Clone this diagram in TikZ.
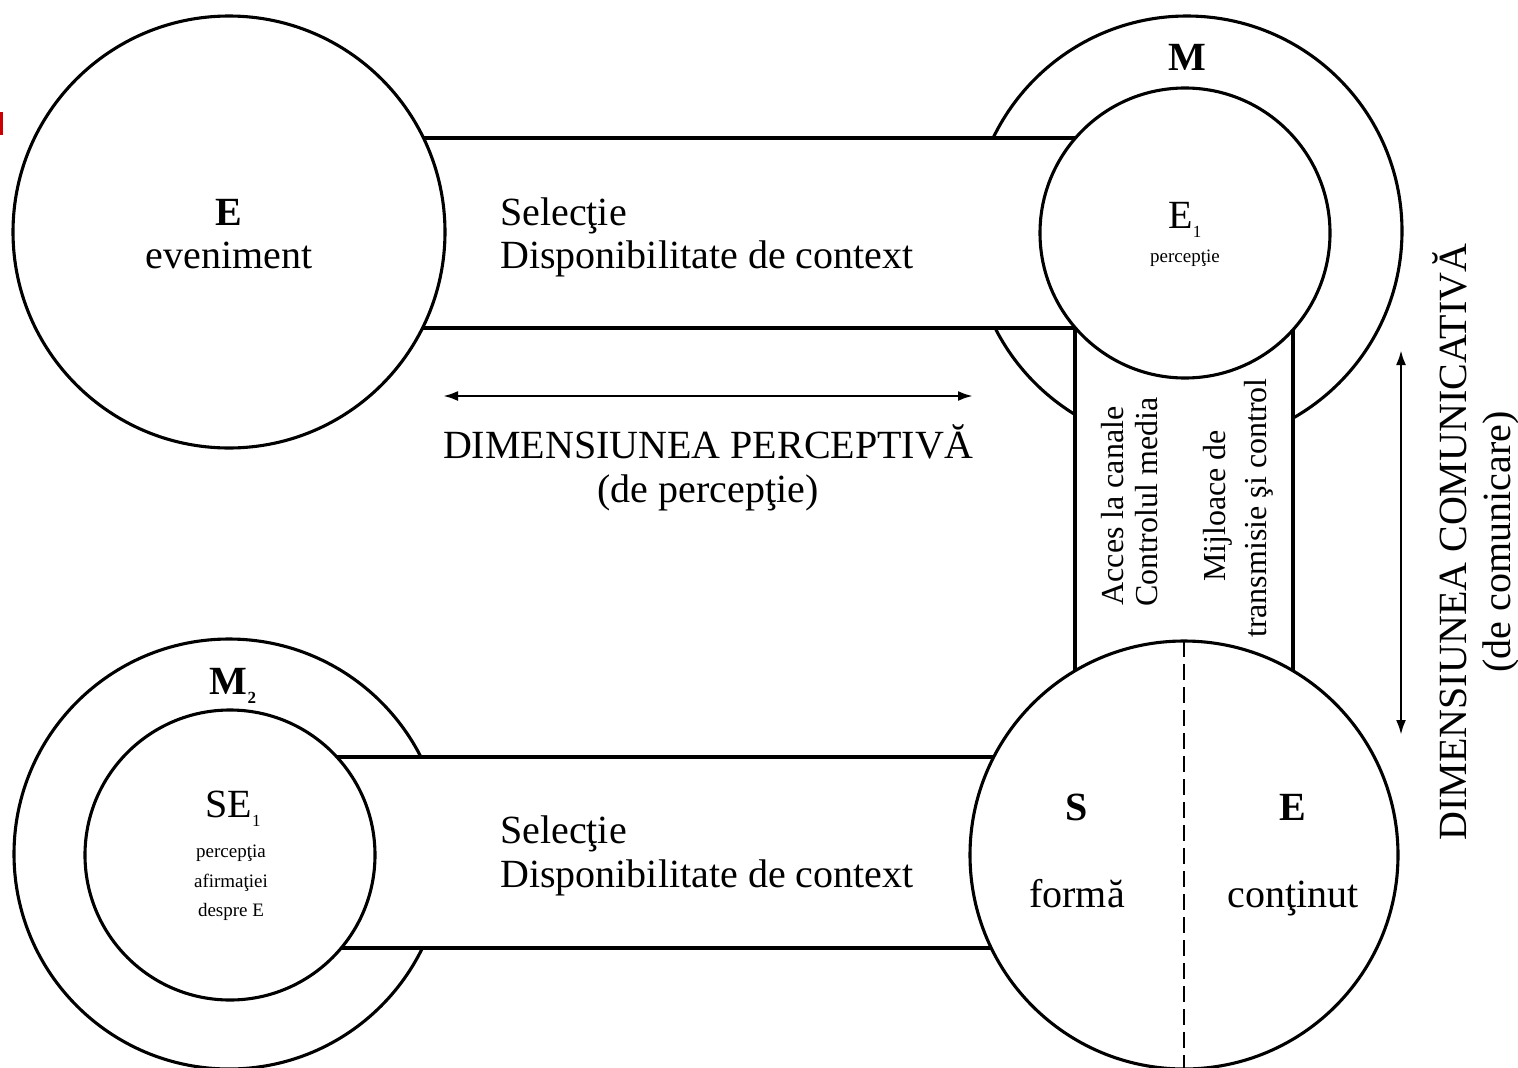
\documentclass[tikz,border=0pt]{standalone}
\usepackage{fontspec}
\setmainfont{Liberation Serif}
\usetikzlibrary{arrows.meta}
\begin{document}
\begin{tikzpicture}[x=1pt,y=-1pt,
  ring/.style={circle,draw,line width=3.1pt,inner sep=0pt,minimum size=#1},
  disc/.style={ring=#1,fill=white},
  bandline/.style={line width=3.1pt},
  lbl/.style={inner sep=0pt,anchor=base},
  big/.style={lbl,font=\fontsize{40}{44}\selectfont},
  bigb/.style={lbl,font=\fontsize{40}{44}\selectfont\bfseries},
  mid/.style={lbl,font=\fontsize{32}{36}\selectfont},
  tiny/.style={lbl,font=\fontsize{19}{22}\selectfont},
  dimarrow/.style={line width=2.6pt,{Latex[length=15pt,width=10pt]}-{Latex[length=15pt,width=10pt]}}
]
\clip (0,0) rectangle (1518,1068);
\fill[white] (0,0) rectangle (1518,1068);
\fill[red!80!black] (0,112) rectangle (3,135);

% outer rings
\node[ring=430pt] (M) at (1187,231) {};
\node[ring=430pt] (M2) at (229,854) {};

% band fills
\fill[white] (400,138) rectangle (1185,328);
\fill[white] (1075,328) rectangle (1293,760);
\fill[white] (300,757) rectangle (1000,948);

% band edges
\draw[bandline] (400,138) -- (1100,138);
\draw[bandline] (400,328) -- (1075,328) -- (1075,700);
\draw[bandline] (1293,320) -- (1293,700);
\draw[bandline] (300,757) -- (1000,757);
\draw[bandline] (300,948) -- (1000,948);

% circles on top
\node[disc=432pt] (E) at (229,232) {};
\node[disc=290pt] (E1) at (1185,233) {};
\node[disc=290pt] (SE1) at (230,855) {};
\node[disc=428pt] (S) at (1184,855) {};

% dashed divider
\coordinate (dtop) at (1184,641);
\coordinate (dbot) at (1184,1075);
\draw[line width=2.2pt,dash pattern=on 16pt off 7pt] (dtop) -- (dbot);

% texts in circles
\node[bigb] (tE) at (229,225) {E};
\node[big] (tev) at (229,268) {eveniment};
\node[bigb] (tM) at (1187,70) {M};
\node[big] (tE1) at (1185,228) {E\raisebox{-9pt}{\fontsize{17}{17}\selectfont 1}};
\node[tiny] (tperc) at (1185,262) {percepţie};
\node[bigb] (tM2) at (233,694) {M\raisebox{-9pt}{\fontsize{17}{17}\selectfont\bfseries 2}};
\node[big] (tSE1) at (233,817) {SE\raisebox{-9pt}{\fontsize{17}{17}\selectfont 1}};
\node[tiny] (ts1) at (231,857) {percepţia};
\node[tiny] (ts2) at (231,887) {afirmaţiei};
\node[tiny] (ts3) at (231,916) {despre E};
\node[bigb] (tS) at (1077,820) {S};
\node[bigb] (tE2) at (1293,820) {E};
\node[big] (tforma) at (1077,907) {formă};
\node[big] (tcont) at (1293,907) {conţinut};

% band texts
\node[big,anchor=base west] (sel1) at (500,225) {Selecţie};
\node[big,anchor=base west] (disp1) at (500,268) {Disponibilitate de context};
\node[big,anchor=base west] (sel2) at (500,843) {Selecţie};
\node[big,anchor=base west] (disp2) at (500,887) {Disponibilitate de context};

\node[mid,rotate=90] (acc) at (1123,506) {Acces la canale};
\node[mid,rotate=90] (ctr) at (1157,502) {Controlul media};
\node[mid,rotate=90] (mij) at (1225,506) {Mijloace de};
\node[mid,rotate=90] (trans) at (1266,508) {transmisie şi control};

% dimension labels
\node[big] (dp1) at (708,458) {DIMENSIUNEA PERCEPTIVĂ};
\node[big] (dp2) at (708,502) {(de percepţie)};
\node[big,rotate=90] (dc1) at (1466,542) {DIMENSIUNEA COMUNICATIVĂ};
\node[big,rotate=90] (dc2) at (1510,542) {(de comunicare)};

% arrows
\coordinate (ha) at (443,396);
\coordinate (hb) at (973,396);
\draw[dimarrow] (ha) -- (hb);
\coordinate (va) at (1401,350);
\coordinate (vb) at (1401,735);
\draw[dimarrow] (va) -- (vb);
\end{tikzpicture}
\end{document}
